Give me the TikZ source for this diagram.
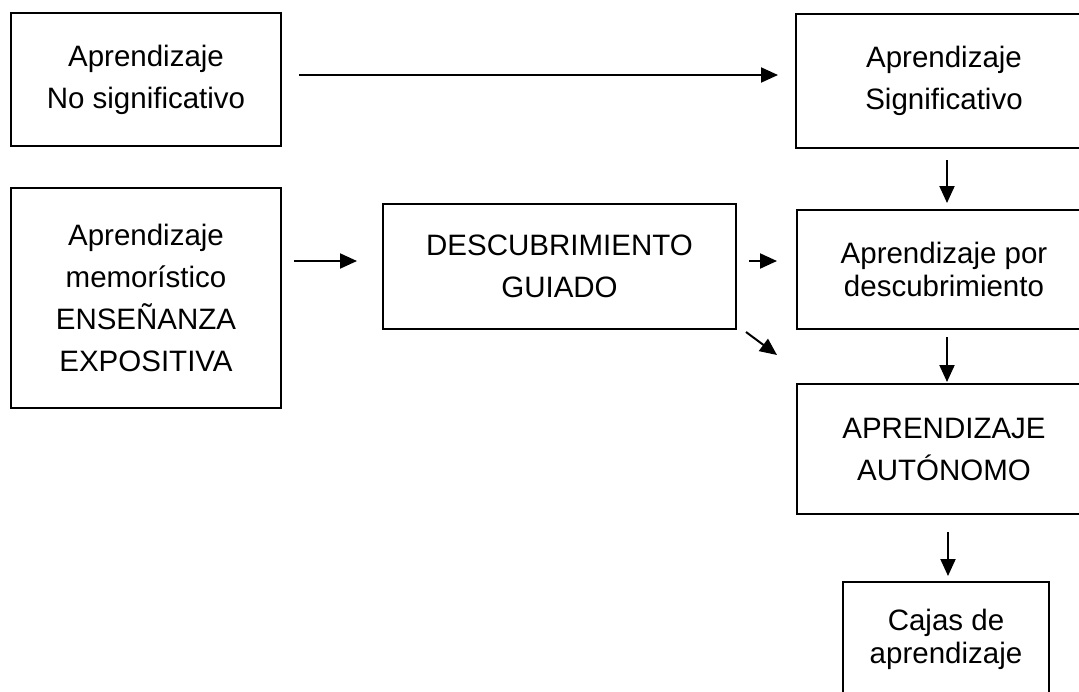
\documentclass[tikz,border=0pt]{standalone}
\usepackage{fontspec}
\setmainfont{Liberation Sans}
\usetikzlibrary{arrows.meta}
\begin{document}
\begin{tikzpicture}[x=1pt,y=-1pt,
  box/.style={draw, line width=2pt, inner sep=0pt, align=center, anchor=north west,
    font=\fontsize{29.5}{42}\selectfont},
  tight/.style={font=\fontsize{29.5}{33}\selectfont},
  arr/.style={line width=2pt, -{Triangle[length=17pt,width=15pt]}}]
\useasboundingbox (0,0) rectangle (1079,691);
\clip (0,0) rectangle (1079,691);
\fill[white] (0,0) rectangle (1079,691);
% boxes
\node[box, minimum width=270pt, minimum height=133pt] (n1) at (10,12) {Aprendizaje\\No significativo};
\node[box, minimum width=296pt, minimum height=134pt] (n2) at (795,13) {Aprendizaje\\Significativo};
\node[box, minimum width=270pt, minimum height=220pt] (n3) at (10,187) {Aprendizaje\\memorístico\\ENSEÑANZA\\EXPOSITIVA};
\node[box, minimum width=353pt, minimum height=125pt] (n4) at (382,203) {DESCUBRIMIENTO\\GUIADO};
\node[box, tight, minimum width=294pt, minimum height=119pt] (n5) at (796,209) {Aprendizaje por\\descubrimiento};
\node[box, minimum width=294pt, minimum height=130pt] (n6) at (796,383) {APRENDIZAJE\\AUTÓNOMO};
\node[box, tight, minimum width=206pt, minimum height=114pt] (n7) at (842,581) {Cajas de\\aprendizaje};
% arrows
\draw[arr] ([xshift=17pt,yshift=4.5pt]n1.east) -- ([xshift=-17pt,yshift=6pt]n2.west);
\draw[arr] ([xshift=12pt,yshift=37pt]n3.east) -- ([xshift=-25pt,yshift=5.5pt]n4.west);
\draw[arr] ([xshift=12pt,yshift=5.5pt]n4.east) -- ([xshift=-19pt,yshift=8.5pt]n5.west);
\draw[arr] ([xshift=9pt,yshift=-2pt]n4.south east) -- ([xshift=-19pt,yshift=-25pt]n5.south west);
\draw[arr] ([xshift=3pt,yshift=-11pt]n2.south) -- ([xshift=3pt,yshift=6pt]n5.north);
\draw[arr] ([xshift=3pt,yshift=-7pt]n5.south) -- ([xshift=3pt,yshift=1pt]n6.north);
\draw[arr] ([xshift=4pt,yshift=-17pt]n6.south) -- ([xshift=2pt,yshift=5pt]n7.north);
\end{tikzpicture}
\end{document}
